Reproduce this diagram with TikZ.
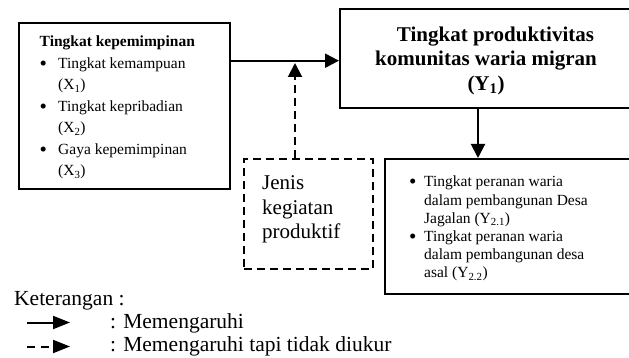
\documentclass[tikz,border=0pt]{standalone}
\usepackage{fontspec}
\setmainfont{Liberation Serif}
\usetikzlibrary{arrows.meta}
\newcommand{\bigblt}{\raisebox{-1.6pt}{\fontsize{21}{0}\selectfont\textbullet}}
\newcommand{\blt}{\makebox[18.5pt][l]{\bigblt}}
\newcommand{\blr}{\makebox[15pt][l]{\bigblt}}
\begin{document}
\begin{tikzpicture}[x=1pt,y=-1pt,
  box/.style={draw, line width=2pt, inner sep=0pt, anchor=north west},
  dbox/.style={box, dash pattern=on 8pt off 5pt},
  txt/.style={inner sep=0pt, anchor=base west},
  arr/.style={line width=2pt, -{Triangle[length=14pt,width=14pt]}},
  darr/.style={arr, dash pattern=on 8pt off 5pt},
  larr/.style={line width=2pt, -{Triangle[length=17pt,width=13pt]}},
  ldarr/.style={larr, dash pattern=on 8pt off 6pt}]
\useasboundingbox (0,0) rectangle (629,358);

% boxes
\node[box, minimum width=211pt, minimum height=166pt] (L) at (18,22) {};
\node[box, minimum width=294pt, minimum height=99pt] (B) at (339,8) {};
\node[dbox, minimum width=129pt, minimum height=110pt] (D) at (243,158) {};
\node[box, minimum width=249pt, minimum height=135pt] (R) at (384,158) {};

% texts
\node[txt, font=\fontsize{15.5}{21.5}\selectfont] (lt) at (39.5,47) {\begin{tabular}[t]{@{}l@{}}
\textbf{Tingkat kepemimpinan}\\
\blt Tingkat kemampuan\\
\hspace*{18.5pt}(X\textsubscript{1})\\
\blt Tingkat kepribadian\\
\hspace*{18.5pt}(X\textsubscript{2})\\
\blt Gaya kepemimpinan\\
\hspace*{18.5pt}(X\textsubscript{3})
\end{tabular}};

\node[inner sep=0pt, anchor=base, font=\fontsize{21}{24.5}\selectfont\bfseries] (bt) at (486,41.5) {\begin{tabular}[t]{@{}c@{}}
\hspace*{19pt}Tingkat produktivitas\\
komunitas waria migran\\
(Y\textsubscript{1})
\end{tabular}};

\node[txt, font=\fontsize{21}{24.5}\selectfont] (jt) at (262,190) {\begin{tabular}[t]{@{}l@{}}
Jenis\\
kegiatan\\
produktif
\end{tabular}};

\node[txt, font=\fontsize{15.5}{18.2}\selectfont] (rt) at (409,187) {\begin{tabular}[t]{@{}l@{}}
\blr Tingkat peranan waria\\
\hspace*{15pt}dalam pembangunan Desa\\
\hspace*{15pt}Jagalan (Y\textsubscript{2.1})\\
\blr Tingkat peranan waria\\
\hspace*{15pt}dalam pembangunan desa\\
\hspace*{15pt}asal (Y\textsubscript{2.2})
\end{tabular}};

% connectors
\coordinate (h) at (300,60.7);
\coordinate (v) at (295,63);
\coordinate (dn) at (478,0);
\draw[arr] (L.east |- h) -- (B.west |- h);
\draw[darr] (D.north -| v) -- (v);
\draw[arr] (B.south -| dn) -- (R.north -| dn);

% legend
\node[txt, font=\fontsize{21.5}{24}\selectfont] (k) at (14,305) {Keterangan :};
\node[txt, font=\fontsize{21.5}{24}\selectfont] (m1) at (110,328) {: Memengaruhi};
\node[txt, font=\fontsize{21.5}{24}\selectfont] (m2) at (110,351.5) {: Memengaruhi tapi tidak diukur};
\coordinate (a1) at (27,322.5);
\coordinate (a2) at (70,322.5);
\coordinate (b1) at (27,346.5);
\coordinate (b2) at (70,346.5);
\draw[larr] (a1) -- (a2);
\draw[ldarr] (b1) -- (b2);
\end{tikzpicture}
\end{document}
